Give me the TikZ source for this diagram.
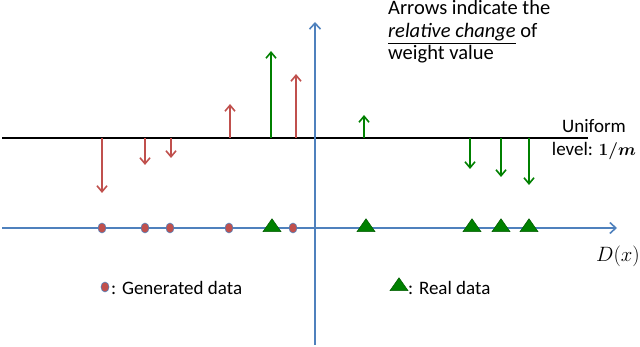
\documentclass[tikz,border=0pt]{standalone}
\usepackage{fontspec}
\setmainfont{Carlito}
\usepackage{bm}
\usetikzlibrary{arrows.meta,shapes.geometric,positioning}
\definecolor{genred}{RGB}{192,80,77}
\definecolor{realgreen}{RGB}{0,128,0}
\definecolor{axisblue}{RGB}{79,129,189}
\tikzset{
  gendot/.style={ellipse,fill=genred,draw=axisblue,line width=0.6pt,minimum width=8pt,minimum height=10pt,inner sep=0pt},
  realtri/.style={isosceles triangle,isosceles triangle apex angle=70,shape border rotate=90,fill=realgreen,draw=realgreen!70!black,line width=0.5pt,minimum height=13pt,inner sep=0pt},
  genarrow/.style={draw=genred,line width=1.6pt,-{Straight Barb[length=6pt,width=10pt]}},
  realarrow/.style={draw=realgreen,line width=1.6pt,-{Straight Barb[length=6pt,width=10pt]}},
  txt/.style={font=\fontsize{19}{23}\selectfont,inner sep=0pt},
  notetxt/.style={font=\fontsize{20.5}{22.5}\selectfont,inner sep=0pt,anchor=base west}
}
\begin{document}
\begin{tikzpicture}[x=1pt,y=-1pt]
\useasboundingbox (0,0) rectangle (640,347);

% axes and uniform level
\coordinate (lvlL) at (2,138);
\coordinate (lvlR) at (588,138);
\draw[line width=1.6pt] (lvlL) -- (lvlR);
\coordinate (xL) at (2,228);
\coordinate (xR) at (617,228);
\draw[axisblue,line width=1.6pt,-{Straight Barb[length=6pt,width=11pt]}] (xL) -- (xR);
\coordinate (yB) at (315,345);
\coordinate (yT) at (315,22);
\draw[axisblue,line width=1.6pt,-{Straight Barb[length=6pt,width=11pt]}] (yB) -- (yT);

% generated data with arrows
\foreach \i/\x/\y in {1/102/193,2/145/165,3/171/158,4/230/104,5/296/74}{
  \coordinate (g\i) at (\x,138);
  \coordinate (gt\i) at (\x,\y);
  \draw[genarrow] (g\i) -- (gt\i);
}
\foreach \i/\x in {1/102,2/145,3/170,4/229,5/293}
  \node[gendot] (gd\i) at (\x,228) {};

% real data with arrows
\foreach \i/\x/\y in {1/271/51,2/364/115,3/470/169,4/501/177,5/529/185}{
  \coordinate (r\i) at (\x,138);
  \coordinate (rt\i) at (\x,\y);
  \draw[realarrow] (r\i) -- (rt\i);
}
\foreach \i/\x in {1/272,2/366,3/472,4/501,5/529}
  \node[realtri] (rd\i) at (\x,227) {};

% labels
\node[notetxt] (note1) at (388,15) {Arrows indicate the};
\node[notetxt] (note2) at (388,38) {\underline{\textit{relative change}} of};
\node[notetxt] (note3) at (388,60) {weight value};
\node[txt,align=center] (unif) at (594,140) {Uniform\\level: $\bm{1/m}$};
\node[txt,anchor=east,font=\fontsize{22}{24}\selectfont] (dx) at (640,256) {$D(x)$};

% legend
\node[gendot] (legdot) at (105,287) {};
\node[txt,anchor=west] (legdottxt) at (111,288) {: Generated data};
\node[realtri] (legtri) at (399,286) {};
\node[txt,anchor=west] (legtritxt) at (408,288) {: Real data};
\end{tikzpicture}
\end{document}
